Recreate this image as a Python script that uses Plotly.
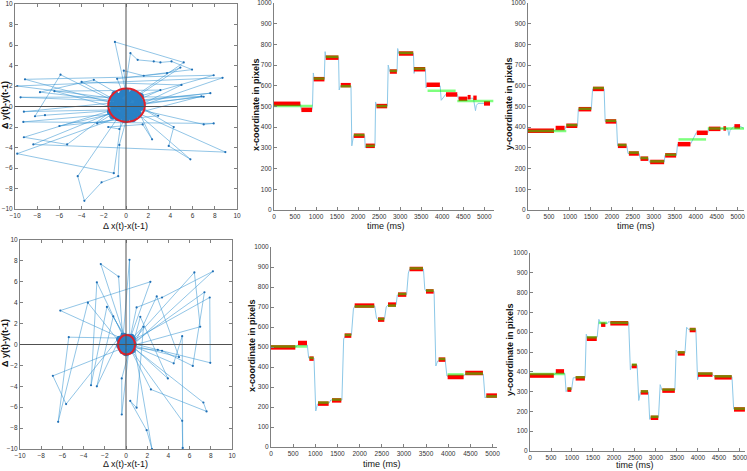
import plotly.graph_objects as go

W, H = 747, 471

# ---- trial 1 : delta scatter (dx, dy) ----
path_1 = [
    (0.2, 0.3), (-1.0, 6.3), (5.2, 4.3), (0.3, 0.6), (-9.8, 2.0), (8.7, 2.8),
    (0.6, -0.2), (-9.1, 2.65), (7.9, 3.05), (-0.4, 0.5), (-9.5, 0.9), (7.0, 0.95),
    (0.5, 0.2), (-8.35, -3.7), (8.95, -4.45), (0.8, -0.5), (-9.8, -4.6), (-1.1, -6.5),
    (-0.3, -0.4), (-4.35, -6.8), (-3.75, -9.2), (-2.2, -7.4), (-0.7, -6.8), (-0.6, -3.75),
    (0.2, -0.6), (-9.25, -1.5), (7.9, -1.65), (7.0, -1.75), (0.4, -0.1), (5.8, -5.15),
    (3.85, -3.85), (4.3, -2.0), (0.7, 0.3), (-9.2, -3.0), (-5.3, -3.7), (-0.5, 0.2),
    (-5.9, 3.1), (-8.2, -0.95), (-7.3, -0.85), (0.1, -0.3), (-9.2, -0.5), (7.6, 1.3),
    (0.3, 0.4), (-7.75, 1.4), (-2.9, 2.6), (-0.2, 0.9), (0.4, 5.2), (1.05, 4.55),
    (2.5, 4.4), (3.1, 4.3), (4.1, 4.4), (5.95, 3.6), (-0.8, 2.7), (0.2, 0.1),
    (-0.2, 3.5), (1.6, 3.0), (3.7, 3.25), (4.9, 3.8), (0.6, 0.7), (2.35, -3.2),
    (1.5, -1.75), (-1.6, -2.0), (-0.6, -2.2), (0.3, -0.5), (-6.45, 1.5), (3.1, 1.6),
    (0.2, 0.2), (-2.6, -1.65), (6.8, 1.0), (0.1, 0.0), (-4.0, 2.4), (5.0, 2.1),
    (0.4, -0.3), (-6.0, -1.9), (2.9, -0.9), (0.2, 0.5),
]
cluster_1 = [
    (0.1, 0.2), (-0.8, 0.5), (0.9, -0.3), (-0.5, -0.9), (1.2, 0.6), (-1.1, -0.2),
    (0.4, 1.1), (-0.3, 1.3), (0.7, -1.0), (-1.2, 0.8), (1.3, -0.1), (0.0, -1.2),
    (-0.6, 1.0), (0.8, 0.9), (-0.9, -0.7), (0.5, 0.0), (-0.2, -0.5), (1.0, 0.3),
    (-1.3, 0.2), (0.3, -0.8), (-0.4, 0.4), (0.6, 1.3), (-0.7, -1.1), (1.1, -0.7),
    (0.2, 0.7), (-1.0, 1.2), (0.9, 1.2), (-0.1, -1.3), (1.4, 0.3), (-1.4, -0.5),
    (0.0, 1.5), (-0.5, 0.0), (0.4, -0.4), (1.3, 1.0), (-1.2, -0.9), (0.6, -1.2),
]
circle_1 = (-1.6, -1.5, 1.7, 1.75)  # x0, y0, x1, y1

# ---- trial 2 : delta scatter ----
path_2 = [
    (0.1, 0.0), (-2.38, 7.7), (-0.7, 6.5), (-0.3, 0.4), (0.33, 8.1), (0.35, -0.5),
    (-2.75, 5.95), (-3.3, -3.9), (-1.8, 3.6), (0.2, 0.3), (-6.2, 3.25), (2.3, 6.0),
    (0.4, 0.6), (-5.4, 0.7), (-6.4, -7.4), (-3.6, 4.0), (-0.2, -0.3), (-6.9, -3.0),
    (-5.65, -5.7), (-0.4, 1.0), (-2.75, -4.0), (-1.2, 2.7), (0.3, -0.2), (-0.4, -6.7),
    (-0.4, -3.25), (0.5, 0.2), (6.45, 6.9), (7.0, 1.7), (0.6, -0.1), (8.2, 7.0),
    (3.4, 4.5), (1.0, 3.55), (0.3, 0.2), (7.9, 4.5), (7.95, -1.75), (3.0, -0.5),
    (0.6, 0.1), (7.4, 5.0), (6.3, -2.05), (3.4, -0.6), (0.7, -0.3), (7.3, -5.55),
    (7.6, -6.4), (2.35, -4.3), (0.4, -0.4), (5.3, -7.3), (5.35, -9.9), (5.3, 0.8),
    (4.5, -1.8), (0.8, -0.2), (2.45, -10.0), (1.95, -8.2), (0.4, -5.4), (1.0, -6.05),
    (1.65, 1.7), (0.2, 0.2), (3.95, -3.25), (1.35, 2.65), (0.5, -0.6), (2.9, 4.6),
    (5.0, -1.2), (0.3, 0.0),
]
cluster_2 = [
    (0.1, 0.1), (-0.5, 0.4), (0.5, -0.2), (-0.3, -0.6), (0.6, 0.5), (-0.6, -0.1),
    (0.2, 0.7), (-0.2, 0.8), (0.4, -0.6), (-0.6, 0.5), (0.7, 0.0), (0.0, -0.8),
    (0.3, 0.3), (-0.4, -0.4), (0.5, 0.7), (-0.1, 0.2), (0.6, -0.5), (-0.5, 0.0),
]
circle_2 = (-0.75, -0.95, 0.85, 0.9)

# ---- trial 1 : x coordinate vs time ----
raw_x1 = [
    (0, 512), (630, 512), (650, 484), (900, 484), (915, 500), (935, 662), (955, 632),
    (1195, 632), (1215, 765), (1235, 736), (1535, 736), (1550, 580), (1580, 600),
    (1830, 600), (1850, 310), (1890, 359), (2155, 359), (2170, 300), (2185, 310),
    (2400, 310), (2415, 522), (2440, 502), (2695, 502), (2715, 700), (2750, 669),
    (2925, 669), (2940, 780), (2965, 756), (3315, 756), (3330, 660), (3350, 680),
    (3600, 680), (3615, 590), (3640, 605), (3950, 600), (3975, 530), (4080, 558),
    (4360, 558), (4385, 537), (4600, 540), (4740, 540), (4790, 480), (4810, 505),
    (4850, 515), (5000, 515), (5140, 515),
]
fix_red_x1 = [
    (0, 627, 513), (651, 905, 484), (944, 1199, 632), (1230, 1532, 736),
    (1587, 1825, 603), (1897, 2151, 359), (2183, 2397, 310), (2437, 2690, 502),
    (2754, 2921, 669), (2968, 3310, 756), (3326, 3595, 680), (3627, 3944, 605),
    (4088, 4357, 558), (4389, 4595, 537), (4603, 4675, 545), (4738, 4818, 542),
    (4992, 5135, 515),
]
fix_green_x1 = [
    (0, 913, 502), (944, 1199, 635), (1230, 1532, 740), (1587, 1825, 598),
    (1897, 2151, 362), (2183, 2397, 310), (2437, 2690, 502), (2754, 2921, 672),
    (2968, 3310, 759), (3326, 3595, 683), (3651, 4318, 576), (4357, 5214, 527),
]

# ---- trial 1 : y coordinate vs time ----
raw_y1 = [
    (0, 383), (640, 383), (660, 390), (880, 390), (905, 405), (1180, 405), (1200, 487),
    (1510, 487), (1540, 585), (1815, 585), (1840, 428), (2110, 428), (2135, 310),
    (2355, 310), (2385, 273), (2650, 273), (2675, 248), (2870, 248), (2900, 230),
    (3250, 232), (3265, 264), (3540, 264), (3565, 318), (3880, 320), (4010, 373),
    (4290, 373), (4305, 392), (4600, 392), (4700, 394), (4760, 394), (4790, 360),
    (4820, 385), (4910, 404), (5060, 404), (5140, 395),
]
fix_red_y1 = [
    (0, 619, 383), (659, 873, 396), (913, 1175, 407), (1206, 1508, 487),
    (1548, 1810, 585), (1849, 2103, 428), (2143, 2349, 310), (2405, 2643, 273),
    (2683, 2865, 248), (2913, 3246, 232), (3270, 3532, 264), (3572, 3873, 318),
    (4024, 4286, 373), (4310, 4588, 392), (4659, 4723, 394), (4921, 5056, 404),
]
fix_green_y1 = [
    (0, 913, 382), (913, 1175, 410), (1206, 1508, 489), (1548, 1810, 589),
    (1849, 2103, 431), (2143, 2349, 314), (2405, 2643, 277), (2683, 2865, 251),
    (2913, 3246, 235), (3270, 3532, 267), (3588, 4246, 341), (4286, 5150, 394),
]

# ---- trial 2 : x coordinate vs time ----
raw_x2 = [
    (0, 500), (560, 500), (600, 510), (820, 510), (850, 445), (970, 445), (1010, 180),
    (1050, 215), (1310, 220), (1350, 235), (1600, 235), (1640, 540), (1680, 557),
    (1815, 560), (1860, 690), (1890, 705), (2340, 705), (2380, 645), (2410, 637),
    (2560, 640), (2600, 700), (2640, 710), (2825, 712), (2850, 760), (3060, 762),
    (3100, 870), (3130, 890), (3440, 890), (3470, 790), (3500, 778), (3680, 778),
    (3720, 405), (3760, 430), (3930, 437), (3970, 355), (4000, 352), (4350, 355),
    (4380, 365), (4790, 365), (4830, 245), (4870, 255), (5099, 257),
]
fix_red_x2 = [
    (0, 549, 498), (609, 812, 520), (865, 963, 442), (1060, 1301, 217),
    (1376, 1587, 233), (1662, 1812, 557), (1888, 2331, 707), (2414, 2557, 637),
    (2640, 2820, 712), (2865, 3053, 762), (3128, 3429, 890), (3497, 3670, 778),
    (3783, 3933, 437), (3986, 4347, 350), (4384, 4783, 370), (4858, 5099, 257),
]
fix_green_x2 = [
    (0, 812, 503), (865, 963, 445), (1060, 1301, 222), (1376, 1587, 237),
    (1662, 1812, 560), (1888, 2331, 703), (2414, 2557, 640), (2640, 2820, 707),
    (2865, 3053, 765), (3128, 3429, 893), (3497, 3670, 782), (3783, 3933, 440),
    (3986, 4347, 363), (4384, 4783, 367), (4858, 5099, 253),
]

# ---- trial 2 : y coordinate vs time ----
raw_y2 = [
    (0, 385), (580, 385), (620, 395), (830, 392), (860, 300), (900, 310), (990, 310),
    (1030, 370), (1310, 370), (1340, 590), (1370, 570), (1600, 575), (1640, 665),
    (1680, 645), (1850, 645), (1880, 655), (1910, 648), (2350, 648), (2390, 410),
    (2420, 430), (2550, 433), (2590, 255), (2630, 296), (2820, 298), (2850, 160),
    (2880, 170), (3060, 170), (3100, 335), (3140, 308), (3450, 308), (3480, 510),
    (3520, 495), (3690, 495), (3730, 625), (3780, 613), (3950, 613), (3990, 360),
    (4030, 388), (4350, 385), (4390, 378), (4810, 375), (4850, 212), (5118, 212),
]
fix_red_y2 = [
    (0, 567, 381), (614, 811, 402), (890, 984, 310), (1087, 1307, 367),
    (1354, 1590, 567), (1693, 1795, 638), (1913, 2339, 645), (2425, 2543, 429),
    (2638, 2811, 296), (2874, 3055, 168), (3150, 3449, 305), (3520, 3685, 493),
    (3803, 3945, 611), (4000, 4346, 386), (4394, 4803, 372), (4858, 5118, 210),
]
fix_green_y2 = [
    (0, 827, 389), (890, 984, 315), (1087, 1307, 372), (1354, 1590, 574),
    (1638, 1835, 647), (1913, 2339, 648), (2425, 2543, 436), (2638, 2811, 301),
    (2874, 3055, 173), (3150, 3449, 310), (3520, 3685, 498), (3803, 3945, 615),
    (4000, 4346, 391), (4394, 4803, 377), (4858, 5118, 214),
]

# panel boxes in pixels: (left, right, top, bottom), plus time-axis end
panels = {
    "1": dict(box=(15, 237, 4, 209)),
    "2": dict(box=(274, 494, 3, 210), tmax=5230),
    "3": dict(box=(528, 744, 3, 210), tmax=5150),
    "4": dict(box=(20, 232, 240, 449)),
    "5": dict(box=(271, 497, 247, 447), tmax=5100),
    "6": dict(box=(530, 745, 253, 451), tmax=5120),
}

TICK_FONT = dict(family="Liberation Sans Narrow, Arial Narrow, Liberation Sans, Arial", size=6.5, color="#333333")
TITLE_FONT = dict(family="Liberation Sans, Arial", size=9, color="#111111")
AX_COLOR = "#808080"


def ax_key(name, n):
    return name if n == "1" else f"{name}{n}"


def seg_xy(segs):
    xs, ys = [], []
    for t0, t1, v in segs:
        xs += [t0, t1, None]
        ys += [v, v, None]
    return xs, ys


fig = go.Figure()


def add_delta(n, path, cluster, circ):
    xa, ya = "x" + ("" if n == "1" else n), "y" + ("" if n == "1" else n)
    fig.add_trace(go.Scatter(
        x=[p[0] for p in path], y=[p[1] for p in path], mode="lines+markers",
        line=dict(color="rgba(60,150,210,0.8)", width=0.7),
        marker=dict(size=2.2, color="#1f6fb5"), xaxis=xa, yaxis=ya,
    ))
    fig.add_trace(go.Scatter(
        x=[p[0] for p in cluster], y=[p[1] for p in cluster], mode="lines+markers",
        line=dict(color="#2f86c8", width=2.5),
        marker=dict(size=7, color="#2a80c4"), xaxis=xa, yaxis=ya,
    ))
    fig.add_shape(type="circle", xref=xa, yref=ya, x0=circ[0], y0=circ[1],
                  x1=circ[2], y1=circ[3], line=dict(color="#e0202a", width=2))
    fig.add_shape(type="line", xref=xa, yref=ya + " domain", x0=0, x1=0, y0=0, y1=1,
                  line=dict(color="#505050", width=1))
    fig.add_shape(type="line", xref=xa + " domain", yref=ya, x0=0, x1=1, y0=0, y1=0,
                  line=dict(color="#505050", width=1))


def add_time(n, raw, red, green):
    xa, ya = "x" + n, "y" + n
    fig.add_trace(go.Scatter(
        x=[p[0] for p in raw], y=[p[1] for p in raw], mode="lines",
        line=dict(color="#8cc8e8", width=1), xaxis=xa, yaxis=ya,
    ))
    rx, ry = seg_xy(red)
    fig.add_trace(go.Scatter(x=rx, y=ry, mode="lines",
                             line=dict(color="#ff0000", width=4.5),
                             xaxis=xa, yaxis=ya))
    gx, gy = seg_xy(green)
    fig.add_trace(go.Scatter(x=gx, y=gy, mode="lines", opacity=0.5,
                             line=dict(color="#00ff00", width=2.5),
                             xaxis=xa, yaxis=ya))


add_delta("1", path_1, cluster_1, circle_1)
add_delta("4", path_2, cluster_2, circle_2)
add_time("2", raw_x1, fix_red_x1, fix_green_x1)
add_time("3", raw_y1, fix_red_y1, fix_green_y1)
add_time("5", raw_x2, fix_red_x2, fix_green_x2)
add_time("6", raw_y2, fix_red_y2, fix_green_y2)

layout = {}
for n, p in panels.items():
    l, r, t, b = p["box"]
    base = dict(showgrid=False, zeroline=False, showline=True, linecolor=AX_COLOR,
                linewidth=1, ticks="inside", ticklen=3, tickcolor=AX_COLOR,
                tickfont=TICK_FONT, automargin=False, ticklabeloverflow="allow")
    xd = dict(base, domain=[l / W, r / W], anchor="y" + ("" if n == "1" else n))
    yd = dict(base, domain=[1 - b / H, 1 - t / H], anchor="x" + ("" if n == "1" else n))
    if "tmax" in p:
        xd.update(range=[0, p["tmax"]], tick0=0, dtick=500)
        yd.update(range=[0, 1000], tick0=0, dtick=100)
    else:
        xd.update(range=[-10, 10], tick0=-10, dtick=2, mirror="ticks")
        yd.update(range=[-10, 10], tick0=-10, dtick=2, mirror="ticks")
    layout[ax_key("xaxis", n)] = xd
    layout[ax_key("yaxis", n)] = yd

# axis titles: (text, x px, y px, rotated, bold)
titles = [
    ("Δ y(t)-y(t-1)", 5, 105, True, True),
    ("Δ x(t)-x(t-1)", 126, 226, False, False),
    ("x-coordinate in pixels", 256, 105, True, True),
    ("time (ms)", 386, 226, False, False),
    ("y-coordinate in pixels", 509, 104, True, True),
    ("time (ms)", 636, 226, False, False),
    ("Δ y(t)-y(t-1)", 5, 343, True, True),
    ("Δ x(t)-x(t-1)", 126, 464, False, False),
    ("x-coordinate in pixels", 252, 345, True, True),
    ("time (ms)", 382, 464, False, False),
    ("y-coordinate in pixels", 510, 350, True, True),
    ("time (ms)", 635, 465, False, False),
]
annotations = []
for text, xp, yp, rot, bold in titles:
    annotations.append(dict(
        text=f"<b>{text}</b>" if bold else text, x=xp / W, y=1 - yp / H,
        xref="paper", yref="paper", showarrow=False, xanchor="center", yanchor="middle",
        textangle=-90 if rot else 0, font=TITLE_FONT,
    ))

fig.update_layout(
    width=W, height=H, margin=dict(l=0, r=0, t=0, b=0),
    paper_bgcolor="white", plot_bgcolor="white", showlegend=False,
    annotations=annotations, **layout,
)

# the page body has a default 8px margin; drop it so the figure sits at 0,0
fig.write_html("out.html", config={"displayModeBar": False},
               post_script="document.body.style.margin='0';")
